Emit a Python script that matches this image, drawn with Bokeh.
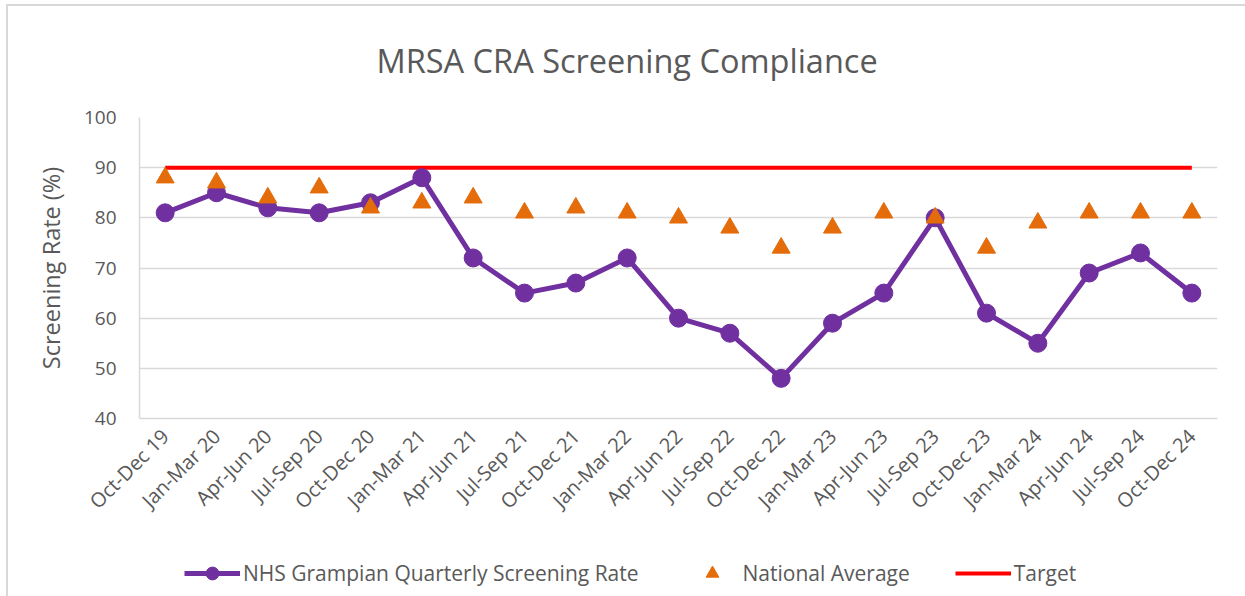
from bokeh.plotting import figure
from bokeh.layouts import column
from bokeh.models import FactorRange, Legend, LegendItem, SingleIntervalTicker
from bokeh.embed import file_html
from bokeh.resources import INLINE
import math

quarters = ["Oct-Dec 19", "Jan-Mar 20", "Apr-Jun 20", "Jul-Sep 20", "Oct-Dec 20",
            "Jan-Mar 21", "Apr-Jun 21", "Jul-Sep 21", "Oct-Dec 21", "Jan-Mar 22",
            "Apr-Jun 22", "Jul-Sep 22", "Oct-Dec 22", "Jan-Mar 23", "Apr-Jun 23",
            "Jul-Sep 23", "Oct-Dec 23", "Jan-Mar 24", "Apr-Jun 24", "Jul-Sep 24",
            "Oct-Dec 24"]
grampian = [81, 85, 82, 81, 83, 88, 72, 65, 67, 72, 60, 57, 48, 59, 65, 80, 61, 55, 69, 73, 65]
national = [88, 87, 84, 86, 82, 83, 84, 81, 82, 81, 80, 78, 74, 78, 81, 80, 74, 79, 81, 81, 81]
target = [90, 90, 90, 90, 90, 90, 90, 90, 90, 90, 90, 90, 90, 90, 90, 90, 90, 90, 90, 90, 90]

FONT = "Open Sans"
TXT = "#595959"
GRID = "#D9D9D9"
PURPLE = "#7030A0"
ORANGE = "#E46C0A"
RED = "#FF0000"

p = figure(frame_width=1078, frame_height=301,
           x_range=FactorRange(factors=quarters, range_padding=0),
           y_range=(40, 100), output_backend="svg", toolbar_location=None,
           min_border_left=139, min_border_right=28, min_border_top=103, min_border_bottom=0)
p.border_fill_alpha = 0
p.styles = {"box-shadow": "inset 6px 4px 0 0 #ffffff, inset 8px 6px 0 0 #d9d9d9",
            "background-color": "#ffffff"}

p.title.text = "MRSA CRA Screening Compliance"
p.title.text_font = FONT
p.title.text_font_size = "32.5px"
p.title.text_font_style = "normal"
p.title.text_color = TXT
p.title.text_line_height = 0.6
p.title.align = "left"
p.title.offset = 237
p.title.standoff = 70

p.outline_line_color = None
p.xgrid.grid_line_color = None
p.ygrid.grid_line_color = GRID
p.ygrid.grid_line_width = 1.5

p.yaxis.ticker = SingleIntervalTicker(interval=10)
p.yaxis.axis_label = "Screening Rate (%)"
p.yaxis.axis_label_text_font = FONT
p.yaxis.axis_label_text_font_size = "23.5px"
p.yaxis.axis_label_text_font_style = "normal"
p.yaxis.axis_label_text_color = TXT
p.yaxis.axis_label_standoff = 14
for ax in (p.xaxis, p.yaxis):
    ax.axis_line_color = GRID
    ax.axis_line_width = 1.5
    ax.major_tick_line_color = None
    ax.minor_tick_line_color = None
    ax.major_label_text_font = FONT
    ax.major_label_text_color = TXT
p.yaxis.major_label_text_font_size = "19px"
p.yaxis.major_label_standoff = 17
p.xaxis.major_label_text_font_size = "20px"
p.xaxis.major_label_orientation = math.pi / 4
p.xaxis.major_label_standoff = 8

p.line(quarters, target, line_color=RED, line_width=4)
p.line(quarters, grampian, line_color=PURPLE, line_width=5)
p.scatter(quarters, grampian, marker="circle", size=18, fill_color=PURPLE, line_color=PURPLE)
p.scatter(quarters, national, marker="triangle", size=18, fill_color=ORANGE, line_color=ORANGE)

# legend strip: same series, drawn on a range where they fall out of view
leg = figure(width=1245, height=80, x_range=FactorRange(factors=quarters, range_padding=0),
             y_range=(0, 1), output_backend="svg", toolbar_location=None,
             x_axis_location=None, y_axis_location=None, min_border=0)
leg.border_fill_alpha = 0
leg.styles = {"box-shadow": "inset 6px 0 0 0 #ffffff, inset 8px 0 0 0 #d9d9d9",
              "background-color": "#ffffff"}
leg.background_fill_alpha = 0
leg.outline_line_color = None
leg.grid.grid_line_color = None
t_line = leg.line(quarters, target, line_color=RED, line_width=4)
g_line = leg.line(quarters, grampian, line_color=PURPLE, line_width=5)
g_pts = leg.scatter(quarters, grampian, marker="circle", size=18, fill_color=PURPLE,
                    line_color=PURPLE)
n_pts = leg.scatter(quarters, national, marker="triangle", size=18, fill_color=ORANGE,
                    line_color=ORANGE)

legend = Legend(items=[
    LegendItem(label="NHS Grampian Quarterly Screening Rate", renderers=[g_line, g_pts]),
    LegendItem(label="National Average", renderers=[n_pts]),
    LegendItem(label="Target", renderers=[t_line]),
], orientation="horizontal", location=(45, 17))
legend.label_text_font = FONT
legend.label_text_font_size = "21px"
legend.label_text_color = TXT
legend.glyph_width = 56
legend.glyph_height = 32
legend.spacing = 45
legend.label_standoff = 3
legend.padding = 0
legend.margin = 0
legend.border_line_color = None
legend.background_fill_alpha = 0
leg.add_layout(legend, "center")

layout = column(p, leg, spacing=0)
open("out.html", "w").write(file_html(layout, INLINE))
